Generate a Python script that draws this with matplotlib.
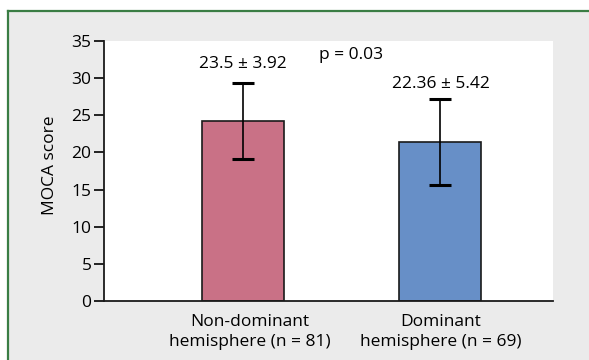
import matplotlib
matplotlib.use("Agg")
import matplotlib.pyplot as plt
import matplotlib.transforms as mtransforms
from matplotlib.patches import Rectangle
from matplotlib.lines import Line2D

# data
groups = ["Non-dominant\nhemisphere (n = 81)", "Dominant\nhemisphere (n = 69)"]
means = [24.2, 21.4]
errors = [5.1, 5.8]
bar_labels = ["23.5 ± 3.92", "22.36 ± 5.42"]
bar_label_y = [31.9, 29.2]
p_text = "p = 0.03"
yticks = [0, 5, 10, 15, 20, 25, 30, 35]

colors = ["#C97186", "#678FC7"]

plt.rcParams["font.family"] = ["Open Sans", "DejaVu Sans"]
plt.rcParams["font.size"] = 12.5

fig = plt.figure(figsize=(5.89, 3.60), dpi=100)
fig.patch.set_facecolor("white")

# grey panel with green frame on top and left
fig.patches.append(Rectangle((8 / 589, 0), 1, 1 - 11 / 360, transform=fig.transFigure,
                             facecolor="#EBEBEB", edgecolor="none", zorder=-10))
border = "#3A7D44"
fig.lines.append(Line2D([8 / 589, 1], [1 - 11 / 360] * 2, transform=fig.transFigure,
                        color=border, linewidth=1.6, zorder=-5))
fig.lines.append(Line2D([8 / 589] * 2, [0, 1 - 11 / 360], transform=fig.transFigure,
                        color=border, linewidth=1.6, zorder=-5))

ax = fig.add_axes([104 / 589, 1 - 301 / 360, 449 / 589, 260 / 360])
ax.set_facecolor("white")

x = range(len(groups))
ax.bar(x, means, width=0.415, color=colors, edgecolor="#1a1a1a", linewidth=1.2, zorder=2)
ax.errorbar(x, means, yerr=errors, fmt="none", ecolor="black", elinewidth=1.2,
            capsize=8, capthick=2.2, zorder=3)

for xi, lab, ly in zip(x, bar_labels, bar_label_y):
    ax.text(xi, ly, lab, ha="center", va="center")
ax.text(0.545, 33.1, p_text, ha="center", va="center")

ax.set_xlim(-0.704, 1.57)
ax.set_ylim(0, 35)
ax.set_yticks(yticks)
ax.set_xticks(list(x))
ax.set_xticklabels(groups, linespacing=1.4)
ax.tick_params(axis="x", length=0, pad=9)
ax.tick_params(axis="y", length=7, width=1.2, pad=2)
# first category label sits a little right of its bar in the original
first = ax.get_xticklabels()[0]
first.set_transform(first.get_transform() +
                    mtransforms.ScaledTranslation(7 / 100, 0, fig.dpi_scale_trans))

ax.set_ylabel("MOCA score")
ax.yaxis.set_label_coords(-0.103, 0.523)

for s in ["top", "right"]:
    ax.spines[s].set_visible(False)
for s in ["left", "bottom"]:
    ax.spines[s].set_linewidth(1.3)
    ax.spines[s].set_color("#1a1a1a")

fig.savefig("out.png", dpi=100, facecolor=fig.get_facecolor())
